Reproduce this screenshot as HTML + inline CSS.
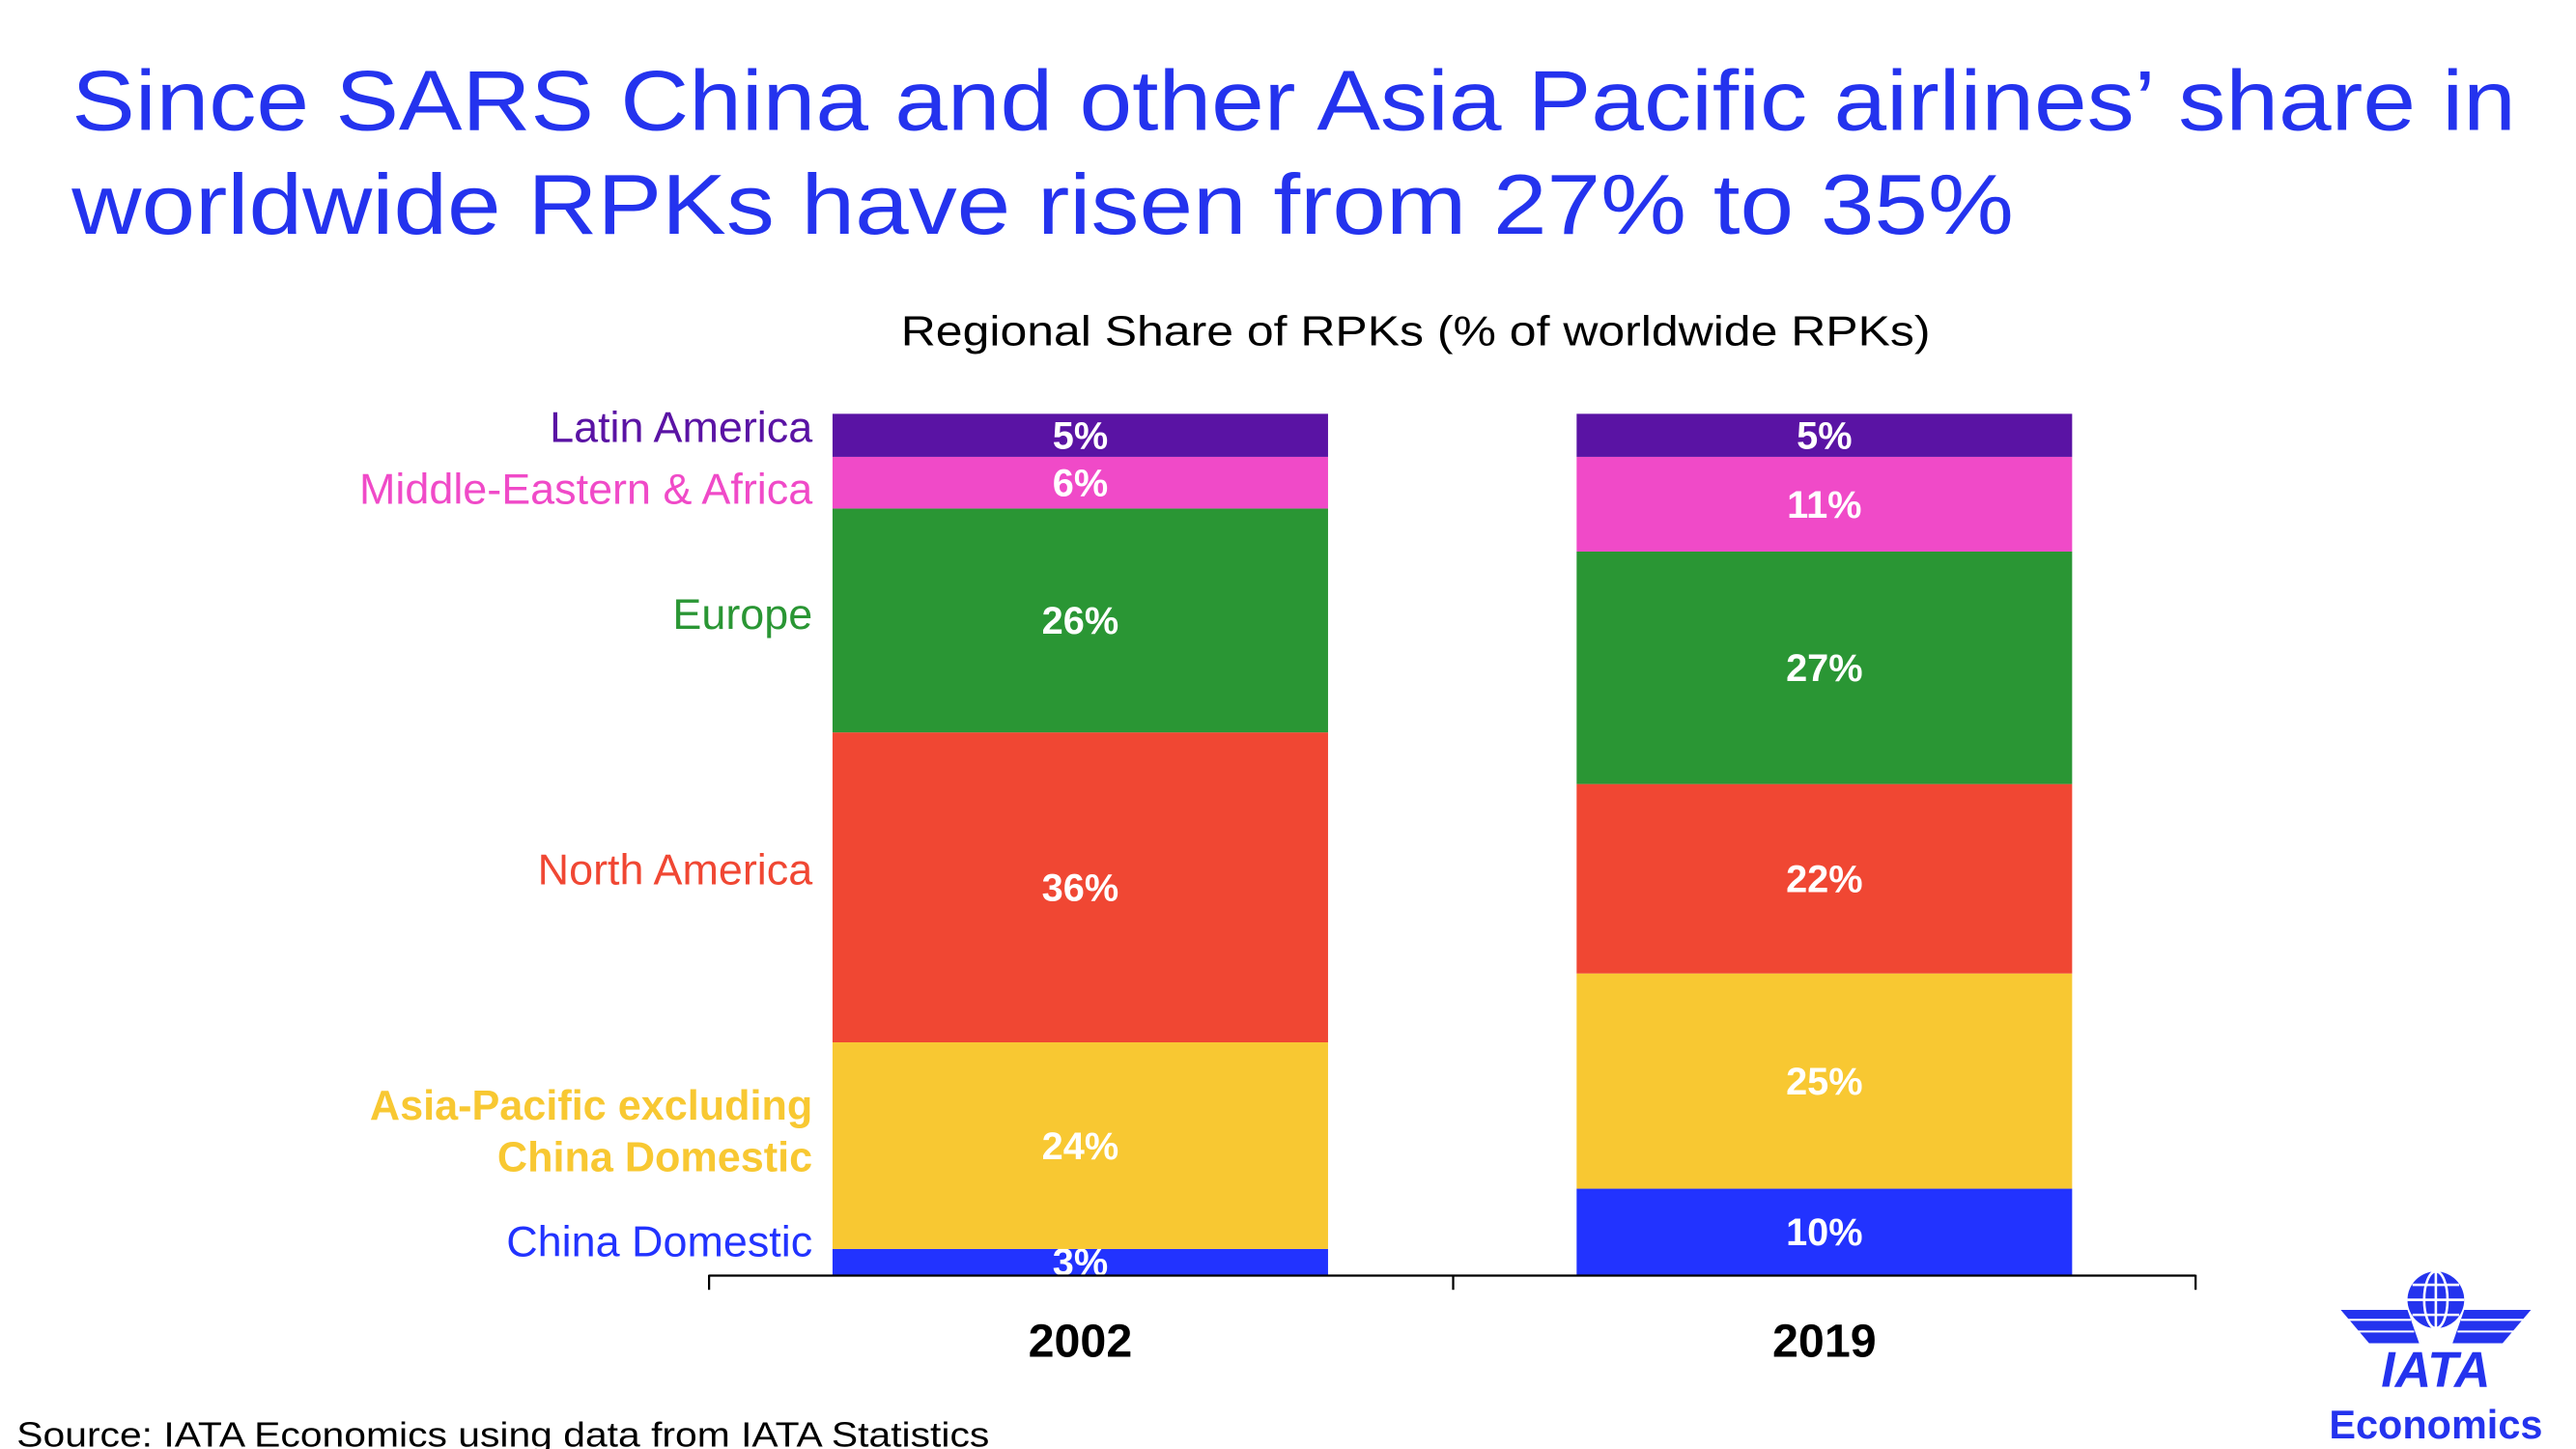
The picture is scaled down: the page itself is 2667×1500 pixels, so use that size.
<!DOCTYPE html>
<html><head><meta charset="utf-8"><style>
html,body{margin:0;padding:0;background:#fff;}
svg{display:block;font-family:"Liberation Sans",sans-serif;}
</style></head><body>
<svg id="chart" width="2667" height="1500" viewBox="0 0 1544 868.4" xmlns="http://www.w3.org/2000/svg">
<text x="43" y="78" font-size="51" fill="#2433ee" textLength="1465" lengthAdjust="spacingAndGlyphs">Since SARS China and other Asia Pacific airlines’ share in</text>
<text x="43" y="140" font-size="51" fill="#2433ee" textLength="1164" lengthAdjust="spacingAndGlyphs">worldwide RPKs have risen from 27% to 35%</text>
<text x="540" y="207" font-size="25" fill="#000" textLength="617" lengthAdjust="spacingAndGlyphs">Regional Share of RPKs (% of worldwide RPKs)</text>
<g id="bars"></g>
<g id="labels"></g>
<g id="axis"></g>
<text x="10" y="867" font-size="21" fill="#000" textLength="583" lengthAdjust="spacingAndGlyphs">Source: IATA Economics using data from IATA Statistics</text>
<g fill="#2433ee">
<circle cx="1460" cy="779" r="17" fill="#2433ee"/>
<g stroke="#fff" stroke-width="1.5" fill="none">
<ellipse cx="1460" cy="779" rx="7" ry="17"/>
<line x1="1460" y1="762" x2="1460" y2="796"/>
<line x1="1443" y1="779" x2="1477" y2="779"/>
<line x1="1446" y1="770" x2="1474" y2="770"/>
<line x1="1446" y1="788" x2="1474" y2="788"/>
</g>
<polygon points="1403,785 1443,785 1450,805 1420,805"/>
<polygon points="1517,785 1477,785 1470,805 1500,805"/>
<g stroke="#fff" stroke-width="1.2"><line x1="1405" y1="791" x2="1445" y2="791"/><line x1="1410" y1="798" x2="1447" y2="798"/><line x1="1515" y1="791" x2="1475" y2="791"/><line x1="1510" y1="798" x2="1473" y2="798"/></g>
<text x="1460" y="831" font-size="30" font-weight="bold" font-style="italic" text-anchor="middle">IATA</text>
<text x="1460" y="862" font-size="24" font-weight="bold" text-anchor="middle">Economics</text>
</g>
</svg>
<script>
const years = ['2002', '2019'];
const regions = ['China Domestic', 'Asia-Pacific excluding China Domestic', 'North America', 'Europe', 'Middle-Eastern & Africa', 'Latin America'];
const values2002 = [3, 24, 36, 26, 6, 5];
const values2019 = [10, 25, 22, 27, 11, 5];
const colors = ['#2233ff', '#f8c832', '#f04733', '#2a9634', '#f04ac8', '#5a13a4'];

const NS = 'http://www.w3.org/2000/svg';
const plotTop = 248, plotBottom = 764, barW = 297;
const barLeft = [499, 945];
function y(v){ return plotBottom - v / 100 * (plotBottom - plotTop); }
const series = [values2002, values2019];
const barsG = document.getElementById('bars');
series.forEach((vals, i) => {
  let cum = 0;
  vals.forEach((v, j) => {
    const y0 = y(cum), y1 = y(cum + v);
    const r = document.createElementNS(NS, 'rect');
    
    
    r.setAttribute('x', barLeft[i]); r.setAttribute('y', y1);
    r.setAttribute('width', barW); r.setAttribute('height', y0 - y1);
    r.setAttribute('fill', colors[j]);
    barsG.appendChild(r);
    const t = document.createElementNS(NS, 'text');
    
    
    t.setAttribute('x', barLeft[i] + barW / 2);
    t.setAttribute('y', (y0 + y1) / 2 + 8);
    t.setAttribute('text-anchor', 'middle');
    t.setAttribute('font-size', '23'); t.setAttribute('font-weight', 'bold');
    t.setAttribute('fill', '#fff');
    t.textContent = v + '%';
    barsG.appendChild(t);
    cum += v;
  });
});
const labG = document.getElementById('labels');
const labelY = [744, null, 521, 368, 293, 256];
regions.forEach((name, j) => {
  const t = document.createElementNS(NS, 'text');
  
  
  t.setAttribute('x', 487); t.setAttribute('text-anchor', 'end');
  t.setAttribute('font-size', '26'); t.setAttribute('fill', colors[j]);
  if (j === 1) {
    t.setAttribute('font-weight', 'bold');
    t.setAttribute('font-size', '25');
    t.setAttribute('y', 671);
    const a = document.createElementNS(NS, 'tspan'); a.textContent = 'Asia-Pacific excluding';
    const b = document.createElementNS(NS, 'tspan'); b.setAttribute('x', 487); b.setAttribute('dy', 31); b.textContent = 'China Domestic';
    t.appendChild(a); t.appendChild(b);
  } else {
    t.setAttribute('y', labelY[j] + 9);
    t.textContent = name;
  }
  labG.appendChild(t);
});
const ax = document.getElementById('axis');
function line(x1,y1,x2,y2,name){
  const l = document.createElementNS(NS,'line');
  
  
  l.setAttribute('x1',x1);l.setAttribute('y1',y1);l.setAttribute('x2',x2);l.setAttribute('y2',y2);
  l.setAttribute('stroke','#000');l.setAttribute('stroke-width','1.3');
  ax.appendChild(l);
}
line(425,764.5,1316,764.5,'x-axis-line');
[425,871,1316].forEach((x,k)=>line(x,764,x,773,'x-tick-'+k));
years.forEach((yr,i)=>{
  const t = document.createElementNS(NS,'text');
  
  
  t.setAttribute('x', barLeft[i]+barW/2); t.setAttribute('y', 813);
  t.setAttribute('text-anchor','middle'); t.setAttribute('font-size','28'); t.setAttribute('font-weight','bold');
  t.textContent = yr;
  ax.appendChild(t);
});
</script>
</body></html>
